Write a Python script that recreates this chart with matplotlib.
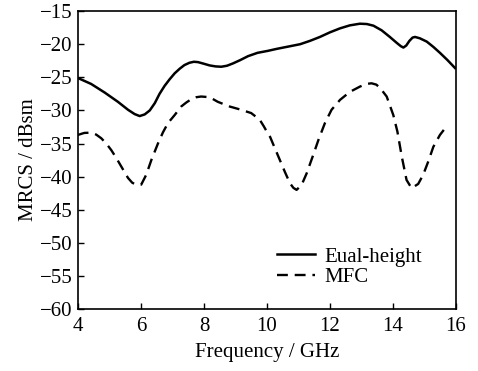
import matplotlib
matplotlib.use("Agg")
import matplotlib.pyplot as plt

plt.rcParams['font.family'] = ['Liberation Serif', 'DejaVu Serif']
plt.rcParams['axes.unicode_minus'] = True

freq_eual = [4.0, 4.42, 4.85, 5.27, 5.59, 5.8, 5.96, 6.12, 6.28, 6.44, 6.59,
             6.75, 6.91, 7.07, 7.23, 7.38, 7.54, 7.68, 7.81, 8.0, 8.18, 8.37,
             8.55, 8.73, 8.92, 9.15, 9.4, 9.7, 10.03, 10.31, 10.68, 11.05,
             11.36, 11.68, 12.0, 12.32, 12.63, 12.95, 13.17, 13.38, 13.64,
             13.9, 14.12, 14.25, 14.33, 14.42, 14.52, 14.62, 14.7, 14.85,
             15.07, 15.28, 15.49, 15.73, 15.97]
mrcs_eual = [-25.1, -26.0, -27.3, -28.7, -29.9, -30.55, -30.85, -30.6, -30.0,
             -28.9, -27.5, -26.3, -25.3, -24.4, -23.7, -23.15, -22.8, -22.65,
             -22.7, -22.95, -23.2, -23.35, -23.4, -23.25, -22.9, -22.4, -21.8,
             -21.3, -21.0, -20.7, -20.35, -20.0, -19.5, -18.9, -18.2, -17.6,
             -17.15, -16.9, -16.95, -17.2, -17.9, -18.9, -19.8, -20.3, -20.5,
             -20.2, -19.5, -19.0, -18.9, -19.1, -19.6, -20.4, -21.3, -22.4,
             -23.6]

freq_mfc = [4.0, 4.2, 4.42, 4.58, 4.74, 4.9, 5.06, 5.22, 5.38, 5.59, 5.72,
            5.85, 6.01, 6.17, 6.33, 6.54, 6.7, 6.86, 7.07, 7.28, 7.44, 7.6,
            7.76, 7.91, 8.18, 8.44, 8.81, 9.18, 9.5, 9.77, 9.9, 10.03, 10.1,
            10.25, 10.41, 10.57, 10.73, 10.84, 10.94, 11.1, 11.26, 11.47,
            11.63, 11.84, 12.05, 12.32, 12.63, 12.95, 13.15, 13.32, 13.47,
            13.59, 13.8, 14.01, 14.14, 14.28, 14.43, 14.59, 14.8, 14.96,
            15.12, 15.28, 15.49, 15.7]
mrcs_mfc = [-33.7, -33.4, -33.35, -33.65, -34.2, -35.0, -36.0, -37.2, -38.5,
            -40.2, -40.9, -41.25, -41.2, -39.7, -37.5, -35.0, -33.3, -31.9,
            -30.7, -29.4, -28.8, -28.3, -28.0, -27.9, -28.0, -28.7, -29.4,
            -29.9, -30.4, -31.4, -32.4, -33.5, -34.0, -35.7, -37.5, -39.3,
            -41.0, -41.7, -42.0, -41.25, -39.5, -36.7, -34.5, -31.9, -29.9,
            -28.4, -27.2, -26.4, -26.0, -25.9, -26.1, -26.6, -27.9, -30.7,
            -33.2, -37.0, -40.5, -41.75, -41.1, -39.7, -37.7, -35.5, -33.7,
            -32.4]

xticks = [4, 6, 8, 10, 12, 14, 16]
yticks = [-60, -55, -50, -45, -40, -35, -30, -25, -20, -15]

fig = plt.figure(figsize=(4.78, 3.71), dpi=100)
ax = fig.add_axes([0.163, 0.167, 0.791, 0.803])

ax.plot(freq_eual, mrcs_eual, color='black', lw=1.8, label='Eual-height',
        solid_joinstyle='round')
ax.plot(freq_mfc, mrcs_mfc, color='black', lw=1.7, linestyle=(0, (4.6, 2.9)),
        label='MFC', dash_capstyle='butt')

ax.set_xlim(4, 16)
ax.set_ylim(-60, -15)
ax.set_xticks(xticks)
ax.set_yticks(yticks)
ax.tick_params(direction='in', length=4, width=1, labelsize=15)
ax.tick_params(axis='x', pad=6)
ax.tick_params(axis='y', pad=4)
for s in ax.spines.values():
    s.set_linewidth(1.2)

ax.set_xlabel('Frequency / GHz', fontsize=15, labelpad=5)
ax.set_ylabel('MRCS / dBsm', fontsize=15, labelpad=1)

ax.legend(loc='lower left', bbox_to_anchor=(0.526, 0.073), frameon=False,
          fontsize=15, handlelength=1.85, handletextpad=0.45, labelspacing=0.05,
          borderaxespad=0, borderpad=0)

fig.savefig('out.png', dpi=100)
